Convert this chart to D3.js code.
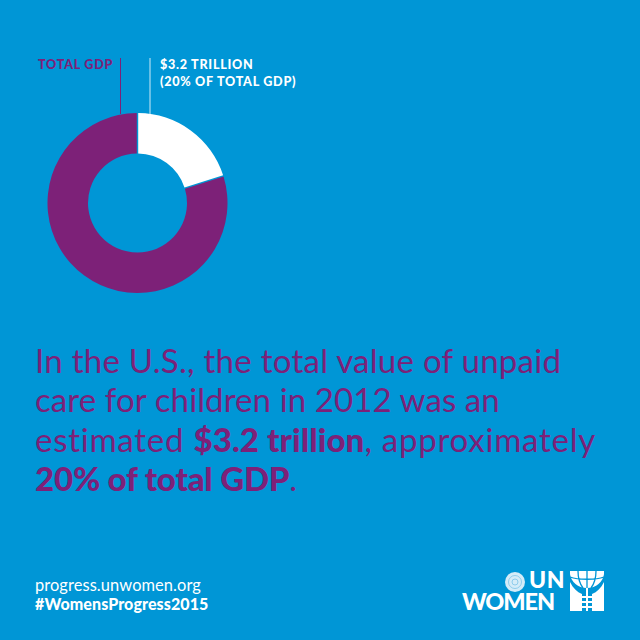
<!DOCTYPE html>
<html><head><meta charset="utf-8">
<script src="https://cdn.jsdelivr.net/npm/d3@7/dist/d3.min.js"></script>
<style>html,body{margin:0;padding:0;background:#0096d6}svg{display:block}text{font-family:Lato,sans-serif}</style>
</head><body><script>
const categories = ["$3.2 trillion", "Rest of total GDP"];
const values = [20, 80];
const colors = ["#ffffff", "#7d2178"];
const headline = [
  [["In the U.S., the total value of unpaid", false]],
  [["care for children in 2012 was an", false]],
  [["estimated ", false], ["$3.2 trillion", true], [", approximately", false]],
  [["20% of total GDP", true], [".", false]]
];
const BG = "#0096d6", PURPLE = "#7d2178";
const svg = d3.select("body").append("svg").attr("width", 640).attr("height", 640);
svg.append("rect").attr("width", 640).attr("height", 640).attr("fill", BG);

const pie = d3.pie().sort(null).padAngle(0.014);
const arc = d3.arc().innerRadius(49.5).outerRadius(90);
const g = svg.append("g").attr("transform", "translate(137.5,203)");
g.selectAll("path").data(pie(values)).join("path")
  .attr("d", arc).attr("fill", (d, i) => colors[i]);

svg.append("line").attr("x1", 120.5).attr("x2", 120.5).attr("y1", 58).attr("y2", 114).attr("stroke", PURPLE).attr("stroke-width", 1);
svg.append("line").attr("x1", 150).attr("x2", 150).attr("y1", 58).attr("y2", 114).attr("stroke", "#cfeaf6").attr("stroke-width", 1);
const small = (t, x, y, c) => svg.append("text").attr("x", x).attr("y", y).attr("fill", c)
  .attr("font-size", 12.6).attr("font-weight", 900).attr("letter-spacing", 0.72).text(t);
small("TOTAL GDP", 38, 69, PURPLE);
small("$3.2 TRILLION", 160, 69, "#fff");
small("(20% OF TOTAL GDP)", 160, 86, "#fff");

const ys = [373, 412, 452, 491];
const regSpacing = [0.27, 0.1, 0.75, 0.1];
const boldSpacing = 0.1;
headline.forEach((line, i) => {
  const t = svg.append("text").attr("x", 35).attr("y", ys[i]).attr("fill", PURPLE).attr("font-size", 33);
  line.forEach(([s, b]) => t.append("tspan")
    .attr("font-weight", b ? 900 : 400)
    .attr("letter-spacing", b ? (i === 3 ? -0.2 : boldSpacing) : regSpacing[i]).text(s));
});

svg.append("text").attr("x", 35).attr("y", 591).attr("fill", "#fff").attr("font-size", 16.4).attr("letter-spacing", 0.1).text("progress.unwomen.org");
svg.append("text").attr("x", 35).attr("y", 610).attr("fill", "#fff").attr("font-size", 16).attr("font-weight", 900).attr("letter-spacing", 0.1).text("#WomensProgress2015");

// UN Women logo
const logo = svg.append("g").attr("fill", "#fff");
logo.append("text").attr("x", 529).attr("y", 588).attr("font-size", 23).attr("font-weight", 900).attr("letter-spacing", 0.6).text("UN");
logo.append("text").attr("x", 462).attr("y", 610).attr("font-size", 23.5).attr("font-weight", 900).attr("letter-spacing", -1.1).text("WOMEN");
const em = logo.append("g").attr("transform", "translate(515,582)").attr("fill", "#d5ecf8");
em.append("circle").attr("r", 10);
em.append("circle").attr("r", 6.5).attr("fill", "none").attr("stroke", "#7cc4e8").attr("stroke-width", 0.8);
em.append("circle").attr("r", 3).attr("fill", "none").attr("stroke", "#7cc4e8").attr("stroke-width", 0.8);
const mark = logo.append("g");
mark.append("path").attr("d", "M570 571H604V574C603 582 596 588 587 588C578 588 571 582 570 574Z");
mark.append("path").attr("d", "M570 582C573 588 577 592 582 594V611H570ZM604 582C601 588 597 592 592 594V611H604ZM586 588H588V611H586ZM582 596H592V598H582ZM582 601H592V603H582ZM582 606H592V608H582Z");
mark.append("path").attr("fill", "none").attr("stroke", BG).attr("stroke-width", 1.3)
  .attr("d", "M570 577C578 580 596 580 604 577M578 571C578 578 580 584 583 588M587 571V588M596 571C596 578 594 584 591 588");
</script></body></html>
